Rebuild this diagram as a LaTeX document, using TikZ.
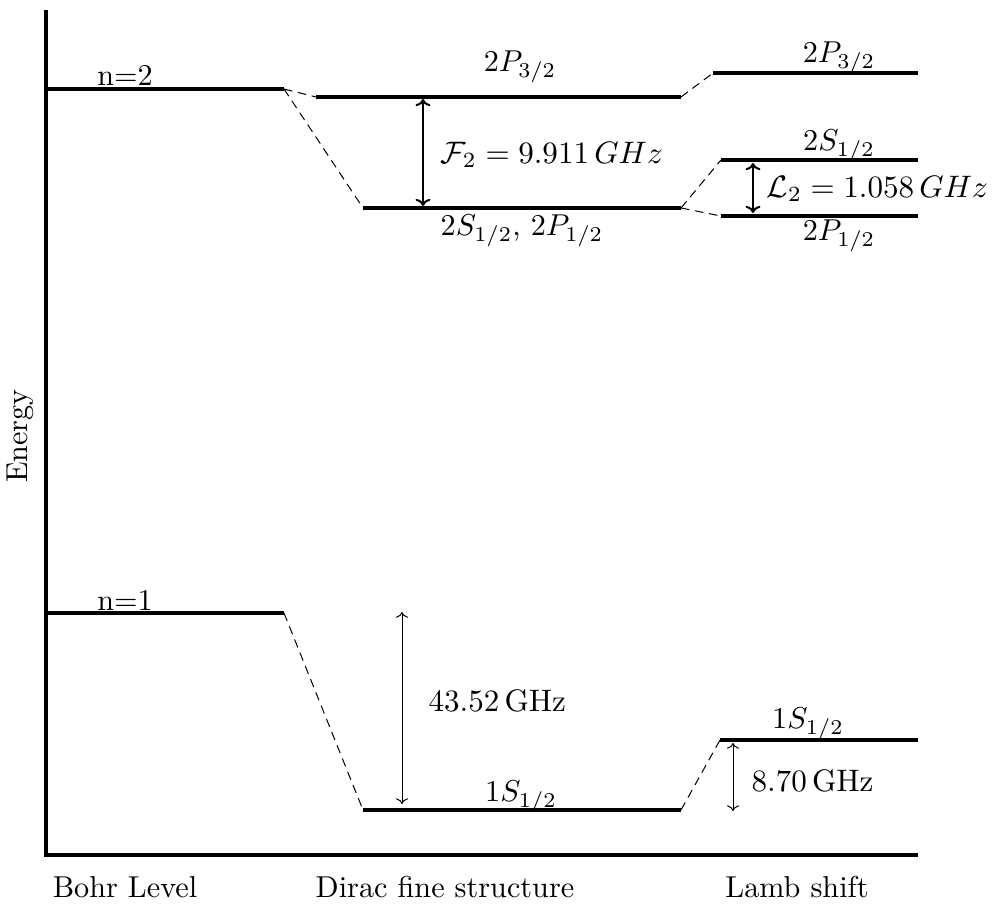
\documentclass[tikz,border=0pt]{standalone}
\usetikzlibrary{arrows.meta}
\begin{document}
\begin{tikzpicture}[x=0.3508pt,y=-0.3508pt,
  level/.style={line width=1.5pt},
  axisline/.style={line width=1.4pt},
  conn/.style={line width=0.35pt,dash pattern=on 3pt off 2pt},
  bigarrow/.style={{To[length=2.5pt]}-{To[length=2.5pt]},line width=0.7pt},
  smallarrow/.style={{To[length=2pt]}-{To[length=2pt]},line width=0.35pt},
  lab/.style={inner sep=0pt,scale=1.06},
  biglab/.style={inner sep=0pt,anchor=west,scale=1.09}]
\useasboundingbox (0,0) rectangle (992,921);
% axes
\coordinate (top) at (46,10);
\coordinate (origin) at (46,855);
\coordinate (right) at (918,855);
\draw[axisline] (top) -- (origin) -- (right);
% levels
\coordinate (n2a) at (46,89);   \coordinate (n2b) at (284,89);
\coordinate (d3a) at (316,97);  \coordinate (d3b) at (681,97);
\coordinate (d1a) at (363,208); \coordinate (d1b) at (681,208);
\coordinate (l3a) at (713,73);  \coordinate (l3b) at (918,73);
\coordinate (lSa) at (721,160); \coordinate (lSb) at (918,160);
\coordinate (lPa) at (721,216); \coordinate (lPb) at (918,216);
\coordinate (n1a) at (46,613);  \coordinate (n1b) at (284,613);
\coordinate (g1a) at (363,810); \coordinate (g1b) at (681,810);
\coordinate (m1a) at (720,740); \coordinate (m1b) at (918,740);
\foreach \a/\b in {n2a/n2b,d3a/d3b,d1a/d1b,l3a/l3b,lSa/lSb,lPa/lPb,n1a/n1b,g1a/g1b,m1a/m1b}
  \draw[level] (\a) -- (\b);
% dashed connectors
\draw[conn] (n2b) -- (d3a);
\draw[conn] (n2b) -- (d1a);
\draw[conn] (d3b) -- (l3a);
\draw[conn] (d1b) -- (lSa);
\draw[conn] (d1b) -- (lPa);
\draw[conn] (n1b) -- (g1a);
\draw[conn] (g1b) -- (m1a);
% arrows
\coordinate (fA) at (423,99);  \coordinate (fB) at (423,206);
\coordinate (lA) at (753,163); \coordinate (lB) at (753,213);
\coordinate (gA) at (402,612); \coordinate (gB) at (402,804);
\coordinate (hA) at (733,743); \coordinate (hB) at (733,811);
\draw[bigarrow] (fA) -- (fB);
\draw[bigarrow] (lA) -- (lB);
\draw[smallarrow] (gA) -- (gB);
\draw[smallarrow] (hA) -- (hB);
% labels
\node[lab] (tn2) at (125,75) {n=2};
\node[lab] (tn1) at (125,600) {n=1};
\node[lab] (td3) at (520,67) {$2P_{3/2}$};
\node[lab] (td1) at (522,231) {$2S_{1/2}$, $2P_{1/2}$};
\node[lab] (tl3) at (839,58) {$2P_{3/2}$};
\node[lab] (tlS) at (839,146) {$2S_{1/2}$};
\node[lab] (tlP) at (839,236) {$2P_{1/2}$};
\node[biglab] (tF) at (440,155) {$\mathcal{F}_2 = 9.911\,GHz$};
\node[biglab] (tL) at (766,189) {$\mathcal{L}_2 = 1.058\,GHz$};
\node[lab] (tg1) at (521,797) {$1S_{1/2}$};
\node[lab] (tm1) at (808,724) {$1S_{1/2}$};
\node[biglab] (tG) at (428,701) {$43.52\,\mathrm{GHz}$};
\node[biglab] (tH) at (751,781) {$8.70\,\mathrm{GHz}$};
\node[lab,rotate=90] (tE) at (20,436) {Energy};
\node[lab] (bx1) at (125,887) {Bohr Level};
\node[lab] (bx2) at (445,887) {Dirac fine structure};
\node[lab] (bx3) at (797,887) {Lamb shift};
\end{tikzpicture}
\end{document}
